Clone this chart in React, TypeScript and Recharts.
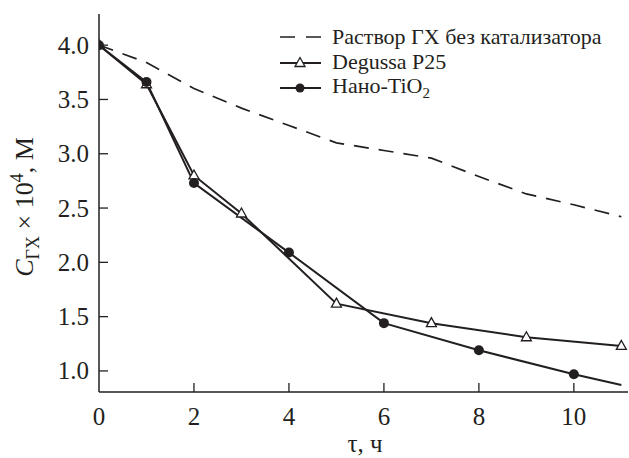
import { LineChart, Line, XAxis, YAxis, Label } from "recharts"

const INK = "#231f20"
const FONT = "'Liberation Serif', 'Times New Roman', serif"

// time, h
const tBlank = [0, 1, 2, 3, 4, 5, 6, 7, 8, 9, 10, 11]
const cBlank = [4.0, 3.84, 3.6, 3.42, 3.26, 3.1, 3.03, 2.96, 2.79, 2.63, 2.53, 2.42]

const tP25 = [0, 1, 2, 3, 5, 7, 9, 11]
const cP25 = [4.0, 3.64, 2.8, 2.45, 1.62, 1.44, 1.31, 1.23]

const tNano = [0, 1, 2, 4, 6, 8, 10, 11]
const cNano = [4.0, 3.66, 2.73, 2.09, 1.44, 1.19, 0.97, 0.87]

const xTicks = [0, 2, 4, 6, 8, 10]
const yTicks = [1.0, 1.5, 2.0, 2.5, 3.0, 3.5, 4.0]

const seriesNames = ["Раствор ГХ без катализатора", "Degussa P25", "Нано-TiO"]

const toRows = (ts: number[], cs: number[]) => ts.map((t, i) => ({ t, c: cs[i] }))

const blankRows = toRows(tBlank, cBlank)
const p25Rows = toRows(tP25, cP25)
const nanoRows = toRows(tNano, cNano)

const X_MARGIN = 15
const Y_MARGIN = 10

function XTick(props: any) {
  const { x, y, payload } = props
  const axisY = y - X_MARGIN
  return (
    <g>
      {payload.value !== 0 && (
        <line x1={x} x2={x} y1={axisY} y2={axisY - 9} stroke={INK} strokeWidth={1.3} />
      )}
      <text x={x} y={y} dy="0.71em" textAnchor="middle" fontFamily={FONT} fontSize={25} fill={INK}>
        {payload.value}
      </text>
    </g>
  )
}

function YTick(props: any) {
  const { x, y, payload } = props
  const axisX = x + Y_MARGIN
  return (
    <g>
      <line x1={axisX} x2={axisX + 9} y1={y} y2={y} stroke={INK} strokeWidth={1.3} />
      <text x={x} y={y} dy="0.34em" textAnchor="end" fontFamily={FONT} fontSize={25} fill={INK}>
        {payload.value.toFixed(1)}
      </text>
    </g>
  )
}

function Triangle(props: any) {
  const { cx, cy } = props
  if (cx == null || cy == null) return <g />
  return (
    <path
      d={`M${cx},${cy - 5.5} L${cx + 5},${cy + 3.5} L${cx - 5},${cy + 3.5} Z`}
      fill="#fff"
      stroke={INK}
      strokeWidth={1.3}
    />
  )
}

function Circle(props: any) {
  const { cx, cy, payload } = props
  if (cx == null || cy == null || payload.t === 11) return <g />
  return <circle cx={cx} cy={cy} r={5} fill={INK} />
}

function LegendBox() {
  const row = { display: "flex", alignItems: "center", height: 25.5 }
  const text = { fontFamily: FONT, fontSize: 22, color: INK, marginLeft: 11, whiteSpace: "nowrap" as const }
  return (
    <div style={{ position: "absolute", left: 280, top: 24 }}>
      <div style={row}>
        <svg width={41} height={10}>
          <line x1={0} x2={41} y1={5} y2={5} stroke={INK} strokeWidth={1.6} strokeDasharray="15 11" />
        </svg>
        <span style={text}>{seriesNames[0]}</span>
      </div>
      <div style={row}>
        <svg width={41} height={14}>
          <line x1={0} x2={41} y1={8} y2={8} stroke={INK} strokeWidth={1.8} />
          <Triangle cx={20} cy={8} />
        </svg>
        <span style={text}>{seriesNames[1]}</span>
      </div>
      <div style={row}>
        <svg width={41} height={14}>
          <line x1={0} x2={41} y1={7} y2={7} stroke={INK} strokeWidth={1.8} />
          <circle cx={20} cy={7} r={4.5} fill={INK} />
        </svg>
        <span style={text}>
          {seriesNames[2]}
          <sub style={{ fontSize: 15 }}>2</sub>
        </span>
      </div>
    </div>
  )
}

function YLabel() {
  return (
    <text
      transform="translate(33,207) rotate(-90)"
      textAnchor="middle"
      fontFamily={FONT}
      fontSize={26}
      fill={INK}
    >
      <tspan fontStyle="italic">C</tspan>
      <tspan fontSize={18} dy={6}>ГХ</tspan>
      <tspan dy={-6}> × 10</tspan>
      <tspan fontSize={18} dy={-10}>4</tspan>
      <tspan dy={10}>, М</tspan>
    </text>
  )
}

export default function App() {
  return (
    <div style={{ position: "absolute", left: 0, top: 0, width: 629, height: 458, background: "#fff" }}>
      <LineChart width={629} height={458} margin={{ top: 14, right: 1, bottom: 0, left: 0 }}>
        <XAxis
          type="number"
          dataKey="t"
          domain={[0, 11.14]}
          ticks={xTicks}
          allowDataOverflow
          height={66}
          stroke={INK}
          strokeWidth={1.5}
          tickSize={0}
          tickMargin={X_MARGIN}
          tick={<XTick />}
        >
          <Label
            content={() => (
              <text x={365} y={452} textAnchor="middle" fontFamily={FONT} fontSize={25} fill={INK}>
                τ, ч
              </text>
            )}
          />
        </XAxis>
        <YAxis
          type="number"
          dataKey="c"
          domain={[0.806, 4.287]}
          ticks={yTicks}
          allowDataOverflow
          width={99}
          stroke={INK}
          strokeWidth={1.5}
          tickSize={0}
          tickMargin={Y_MARGIN}
          tick={<YTick />}
        >
          <Label content={() => <YLabel />} />
        </YAxis>
        <Line
          data={blankRows}
          dataKey="c"
          type="linear"
          stroke={INK}
          strokeWidth={1.7}
          strokeDasharray="15 10"
          dot={false}
          isAnimationActive={false}
        />
        <Line
          data={p25Rows}
          dataKey="c"
          type="linear"
          stroke={INK}
          strokeWidth={2}
          dot={<Triangle />}
          isAnimationActive={false}
        />
        <Line
          data={nanoRows}
          dataKey="c"
          type="linear"
          stroke={INK}
          strokeWidth={2}
          dot={<Circle />}
          isAnimationActive={false}
        />
      </LineChart>
      <LegendBox />
    </div>
  )
}
